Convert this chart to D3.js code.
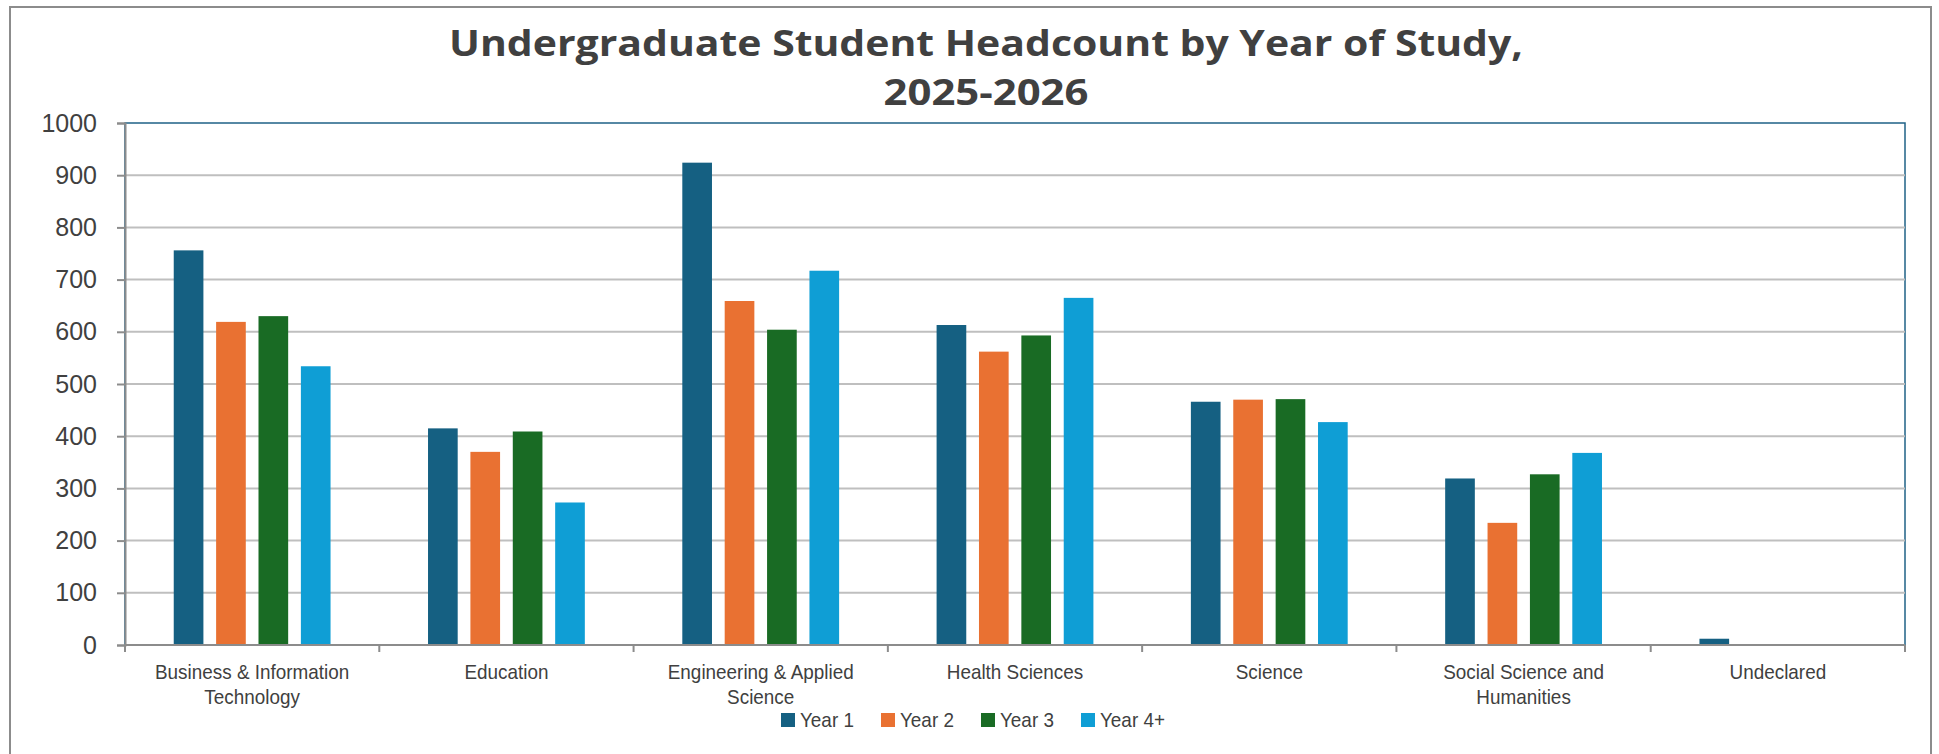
<!DOCTYPE html>
<html>
<head>
<meta charset="utf-8">
<script src="https://cdn.jsdelivr.net/npm/d3@7"></script>
<style>
  html, body { margin: 0; padding: 0; background: #ffffff; }
  svg { display: block; }
  .narrow { font-family: 'Liberation Sans Narrow', 'Arial Narrow', 'Liberation Sans', sans-serif; }
</style>
</head>
<body>
<svg id="chart" width="1939" height="754"></svg>
<script>
const categories = ["Business & Information Technology", "Education", "Engineering & Applied Science", "Health Sciences", "Science", "Social Science and Humanities", "Undeclared"];
const categoryLines = [["Business & Information", "Technology"], ["Education"], ["Engineering & Applied", "Science"], ["Health Sciences"], ["Science"], ["Social Science and", "Humanities"], ["Undeclared"]];
const series = ["Year 1", "Year 2", "Year 3", "Year 4+"];
const year1 = [756, 415, 924, 613, 466, 319, 12];
const year2 = [619, 370, 659, 562, 470, 234, 0];
const year3 = [630, 409, 604, 593, 471, 327, 0];
const year4 = [534, 273, 717, 665, 427, 368, 0];
const yTicks = [0, 100, 200, 300, 400, 500, 600, 700, 800, 900, 1000];
const colors = ["#156082", "#E97132", "#196B24", "#0F9ED5"];
const titleLines = ["Undergraduate Student Headcount by Year of Study,", "2025-2026"];

const values = [year1, year2, year3, year4];
const svg = d3.select("#chart");
const plot = { left: 125, right: 1905, top: 123, bottom: 645 };
const narrowScale = 0.9;

// outer border
svg.append("rect").attr("x", 10).attr("y", 7).attr("width", 1921).attr("height", 800)
  .attr("fill", "#fff").attr("stroke", "#8c8c8c").attr("stroke-width", 2);

const x0 = d3.scaleBand().domain(categories).range([plot.left, plot.right]).padding(0);
const x1 = d3.scaleBand().domain(series).range([0, x0.bandwidth()]).paddingInner(0.3).paddingOuter(1.15);
const y = d3.scaleLinear().domain([0, 1000]).range([plot.bottom, plot.top]);
const color = d3.scaleOrdinal().domain(series).range(colors);

// plot border
svg.append("rect").attr("x", plot.left).attr("y", plot.top)
  .attr("width", plot.right - plot.left).attr("height", plot.bottom - plot.top)
  .attr("fill", "none").attr("stroke", "#1f6286").attr("stroke-width", 1.5);

// gridlines
svg.append("g").selectAll("line").data(yTicks.filter(d => d > 0 && d < 1000)).join("line")
  .attr("x1", plot.left).attr("x2", plot.right)
  .attr("y1", d => y(d)).attr("y2", d => y(d))
  .attr("stroke", "#bfbfbf").attr("stroke-width", 2);

// bars
const data = [];
categories.forEach((c, i) => series.forEach((s, j) => data.push({ c, s, v: values[j][i] })));
svg.append("g").selectAll("rect").data(data.filter(d => d.v > 0)).join("rect")
  .attr("x", d => x0(d.c) + x1(d.s))
  .attr("y", d => y(d.v))
  .attr("width", x1.bandwidth())
  .attr("height", d => y(0) - y(d.v))
  .attr("fill", d => color(d.s));

// y axis
const yAxis = svg.append("g").attr("transform", `translate(${plot.left},0)`)
  .call(d3.axisLeft(y).tickValues(yTicks).tickSize(8).tickPadding(20).tickFormat(d3.format("d")));
yAxis.select(".domain").attr("stroke", "#8c8c8c").attr("stroke-width", 2);
yAxis.selectAll(".tick line").attr("stroke", "#8c8c8c").attr("stroke-width", 2);
yAxis.selectAll(".tick text").attr("fill", "#404040")
  .style("font-family", "'Liberation Sans', Arial, sans-serif").style("font-size", "25px");

// x axis line and boundary ticks
const xg = svg.append("g");
xg.append("line").attr("x1", plot.left).attr("x2", plot.right).attr("y1", y(0)).attr("y2", y(0))
  .attr("stroke", "#8c8c8c").attr("stroke-width", 2);
const edges = categories.map(c => x0(c)).concat([x0(categories[categories.length - 1]) + x0.bandwidth()]);
xg.selectAll("line.tk").data(edges).join("line").attr("class", "tk")
  .attr("x1", d => d).attr("x2", d => d).attr("y1", y(0)).attr("y2", y(0) + 7)
  .attr("stroke", "#8c8c8c").attr("stroke-width", 2);
const labels = xg.selectAll("text.xl").data(categories).join("text").attr("class", "xl narrow")
  .attr("text-anchor", "middle").attr("fill", "#404040").style("font-size", "21px")
  .attr("transform", c => `translate(${x0(c) + x0.bandwidth() / 2},0) scale(${narrowScale},1)`);
labels.each(function (c, i) {
  const t = d3.select(this);
  categoryLines[i].forEach((ln, k) => {
    t.append("tspan").attr("x", 0).attr("y", 679 + k * 25).text(ln);
  });
});

// title (two separate text elements)
const titleWidths = [1074, 205];
svg.append("g").selectAll("text").data(titleLines).join("text")
  .attr("text-anchor", "middle").attr("fill", "#404040")
  .style("font-family", "'Open Sans', sans-serif").style("font-weight", 700).style("font-size", "36px")
  .attr("x", 986).attr("y", (d, k) => 56 + k * 49)
  .attr("textLength", (d, k) => titleWidths[k]).attr("lengthAdjust", "spacingAndGlyphs")
  .text(d => d);

// legend
const lx = d3.scaleBand().domain(series).range([781, 1181]);
const lg = svg.append("g").selectAll("g").data(series).join("g")
  .attr("transform", d => `translate(${lx(d)},713)`);
lg.append("rect").attr("width", 14).attr("height", 14).attr("fill", d => color(d));
lg.append("text").attr("class", "narrow").attr("transform", `translate(19,14) scale(${narrowScale},1)`)
  .attr("fill", "#404040").style("font-size", "21px").text(d => d);
</script>
</body>
</html>
